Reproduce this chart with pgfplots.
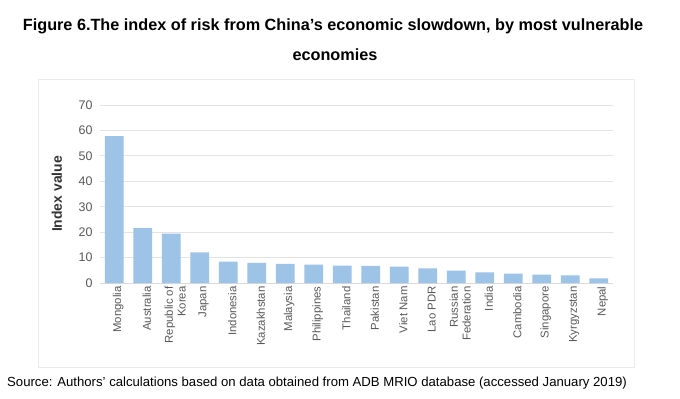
\documentclass[border=0pt]{standalone}
\usepackage{pgfplots}
\pgfplotsset{compat=1.18}
\usepackage{fontspec}
\setmainfont{Liberation Sans}
\definecolor{barc}{HTML}{9DC3E6}
\definecolor{gridc}{HTML}{E3E3E3}
\definecolor{axisc}{HTML}{D9D9D9}
\definecolor{tickc}{HTML}{595959}
\definecolor{framec}{HTML}{EBEBEB}
\begin{document}
\begin{tikzpicture}[x=1bp,y=1bp]
\useasboundingbox (0,0) rectangle (680,398);
\fill[white] (0,0) rectangle (680,398);
\draw[framec, line width=1bp] (38,398-79) rectangle (634,398-367);
\node[font=\bfseries\fontsize{16.3}{18}\selectfont] at (333,398-26) {Figure 6.The index of risk from China’s economic slowdown, by most vulnerable};
\node[font=\bfseries\fontsize{16.3}{18}\selectfont] at (335,398-55) {economies};
\node[anchor=west, font=\fontsize{13.2}{15}\selectfont, inner sep=0] at (7,398-383) {Source: Authors' calculations based on data obtained from ADB MRIO database (accessed January 2019)};
\begin{axis}[
  at={(100bp,115bp)}, anchor=south west,
  scale only axis, width=513bp, height=178bp,
  xmin=-0.5, xmax=17.5, ymin=0, ymax=70,
  ytick={0,10,...,70},
  xtick=data,
  xticklabels={Mongolia,Australia,{Republic of\\Korea},Japan,Indonesia,Kazakhstan,Malaysia,Philippines,Thailand,Pakistan,Viet Nam,Lao PDR,{Russian\\Federation},India,Cambodia,Singapore,Kyrgyzstan,Nepal},
  axis lines=left, axis line style={-},
  y axis line style={draw=none},
  x axis line style={draw=axisc, line width=1bp},
  major tick length=0pt,
  ymajorgrids, grid style={gridc, line width=0.8bp},
  /pgf/number format/assume math mode=true,
  yticklabel style={font=\fontsize{12.5}{14}\selectfont, text=tickc, xshift=-4bp},
  xticklabel style={font=\fontsize{11.4}{12.8}\selectfont, text=tickc, rotate=90, anchor=east, align=right, yshift=-4bp},
  ylabel={Index value},
  every axis y label/.style={at={(-43bp,89bp)}, rotate=90, anchor=center, font=\bfseries\fontsize{14}{16}\selectfont, text=black!80},
]
\addplot[ybar, bar width=18.6bp, fill=barc, draw=none] coordinates {
(0,57.8) (1,21.6) (2,19.4) (3,12.0) (4,8.4) (5,7.9) (6,7.5) (7,7.2) (8,6.8)
(9,6.7) (10,6.4) (11,5.8) (12,4.9) (13,4.2) (14,3.7) (15,3.3) (16,3.0) (17,1.8)
};
\end{axis}
\end{tikzpicture}
\end{document}
